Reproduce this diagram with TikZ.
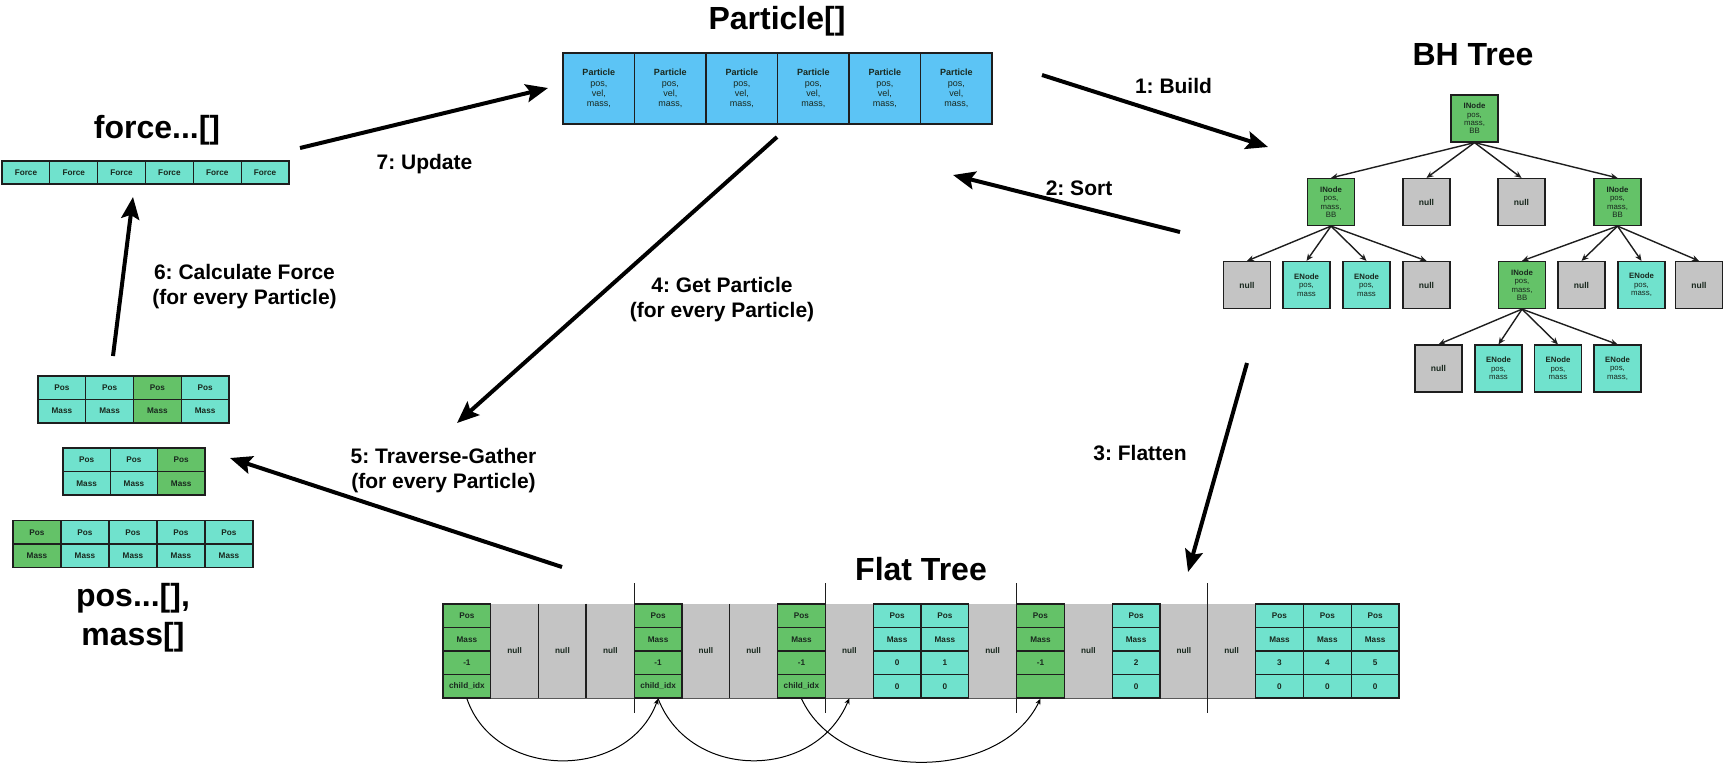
\documentclass[tikz,border=0pt]{standalone}
\usepackage{fontspec}
\setmainfont{Liberation Sans}
\usetikzlibrary{arrows.meta,calc}
\definecolor{pblue}{RGB}{92,196,245}
\definecolor{fillg}{RGB}{100,194,104}
\definecolor{fillc}{RGB}{112,226,205}
\definecolor{filln}{RGB}{196,196,196}
\definecolor{txt}{RGB}{25,40,30}
\definecolor{edge}{RGB}{30,30,30}
\begin{document}
\frenchspacing
\begin{tikzpicture}[x=1pt,y=-1pt,
  pcell/.style={draw=edge, line width=1.8pt, fill=pblue, minimum width=71.5pt, minimum height=71pt, inner sep=0pt, align=center, text=txt, font=\fontsize{9}{10.3}\selectfont},
  cell/.style={draw=edge, line width=1.3pt, minimum width=47.8pt, minimum height=23.5pt, inner sep=0pt, text=txt, font=\fontsize{8.2}{9}\selectfont\bfseries},
  nullcol/.style={fill=filln, minimum width=47.8pt, minimum height=94pt, inner sep=0pt, text=txt, font=\fontsize{8.2}{9}\selectfont\bfseries},
  tnode/.style={draw=edge, line width=1.2pt, minimum width=47pt, minimum height=47pt, inner sep=0pt, align=center, text=txt, font=\fontsize{7.8}{8.4}\selectfont},
  inode/.style={tnode, fill=fillg},
  enode/.style={tnode, fill=fillc},
  nnode/.style={tnode, fill=filln, font=\fontsize{8.5}{9}\selectfont\bfseries},
  tedge/.style={-{Stealth[length=7pt,width=6pt]}, line width=1.4pt, draw=edge},
  big/.style={-{Stealth[length=22pt,width=18pt,inset=4pt]}, line width=4pt},
  jump/.style={-{Stealth[length=6pt,width=5pt]}, line width=1pt},
  lbl/.style={font=\fontsize{21}{25}\selectfont\bfseries, align=center, inner sep=0pt},
  ttl/.style={font=\fontsize{32}{38}\selectfont\bfseries, inner sep=0pt},
]
\fill[white] (0,0) rectangle (1723,764);
\useasboundingbox (0,0) rectangle (1723,764);

% ---------- titles ----------
\node[ttl, anchor=base] (tpart) at (777,29) {Particle[]};
\node[ttl, anchor=base] (tbh) at (1473,65) {BH Tree};
\node[ttl, anchor=base] (tforce) at (157,138) {force...[]};
\node[ttl, anchor=base] (tflat) at (921,580) {Flat Tree};
\node[ttl, anchor=base] (tpos) at (133,606) {pos...[],};
\node[ttl, anchor=base] (tmass) at (133,645) {mass[]};

% ---------- Particle array ----------
\foreach \i in {1,...,6}{
  \node[pcell] (p\i) at ({563+(\i-0.5)*71.5},88.5) {\textbf{Particle}\\pos,\\vel,\\mass,};
}

% ---------- force array ----------
\foreach \i in {1,...,6}{
  \node[cell, fill=fillc, minimum width=47.83pt, minimum height=23pt, line width=1.1pt] (fo\i) at ({2+(\i-0.5)*47.83},172.5) {Force};
}

% ---------- pos / mass arrays ----------
\foreach \i/\col in {1/fillc,2/fillc,3/fillg,4/fillc}{
  \node[cell, fill=\col, minimum width=47.75pt] (ap\i) at ({38+(\i-0.5)*47.75},387.7) {Pos};
  \node[cell, fill=\col, minimum width=47.75pt] (am\i) at ({38+(\i-0.5)*47.75},411.2) {Mass};
}
\foreach \i/\col in {1/fillc,2/fillc,3/fillg}{
  \node[cell, fill=\col, minimum width=47.3pt] (bp\i) at ({63+(\i-0.5)*47.3},459.7) {Pos};
  \node[cell, fill=\col, minimum width=47.3pt] (bm\i) at ({63+(\i-0.5)*47.3},483.3) {Mass};
}
\foreach \i/\col in {1/fillg,2/fillc,3/fillc,4/fillc,5/fillc}{
  \node[cell, fill=\col, minimum width=48pt] (cp\i) at ({13+(\i-0.5)*48},532.5) {Pos};
  \node[cell, fill=\col, minimum width=48pt] (cm\i) at ({13+(\i-0.5)*48},555.7) {Mass};
}

% ---------- BH tree ----------
\node[inode] (t0) at (1474.5,118.5) {\textbf{INode}\\pos,\\mass,\\BB};
\node[inode] (t1) at (1331,202) {\textbf{INode}\\pos,\\mass,\\BB};
\node[nnode] (t2) at (1426.5,202) {null};
\node[nnode] (t3) at (1521.5,202) {null};
\node[inode] (t4) at (1617.5,202) {\textbf{INode}\\pos,\\mass,\\BB};
\node[nnode] (t5) at (1247,285) {null};
\node[enode] (t6) at (1306.5,285) {\textbf{ENode}\\pos,\\mass};
\node[enode] (t7) at (1366.5,285) {\textbf{ENode}\\pos,\\mass};
\node[nnode] (t8) at (1426.5,285) {null};
\node[inode] (t9) at (1522,285) {\textbf{INode}\\pos,\\mass,\\BB};
\node[nnode] (t10) at (1581.5,285) {null};
\node[enode] (t11) at (1641.5,285) {\textbf{ENode}\\pos,\\mass,};
\node[nnode] (t12) at (1699,285) {null};
\node[nnode] (t13) at (1438.5,368.5) {null};
\node[enode] (t14) at (1498.5,368.5) {\textbf{ENode}\\pos,\\mass};
\node[enode] (t15) at (1558,368.5) {\textbf{ENode}\\pos,\\mass};
\node[enode] (t16) at (1617.5,368.5) {\textbf{ENode}\\pos,\\mass,};
\foreach \c in {1,2,3,4}{\draw[tedge] (t0.south) -- (t\c.north);}
\foreach \c in {5,6,7,8}{\draw[tedge] (t1.south) -- (t\c.north);}
\foreach \c in {9,10,11,12}{\draw[tedge] (t4.south) -- (t\c.north);}
\foreach \c in {13,14,15,16}{\draw[tedge] (t9.south) -- (t\c.north);}

% ---------- Flat tree ----------
\draw[gray!70!black, line width=0.6pt] (443,604) rectangle (1399,698);
\foreach \i in {2,3,4,6,7,9,12,14,16,17}{
  \node[nullcol] (f\i) at ({443+(\i-0.5)*47.8},651) {null};
  \draw[edge, line width=1.5pt] (f\i.north west) -- (f\i.south west);
  \draw[edge, line width=1.5pt] (f\i.north east) -- (f\i.south east);
}
\foreach \i/\col/\r/\s in {1/fillg/-1/child\_idx, 5/fillg/-1/child\_idx, 8/fillg/-1/child\_idx, 10/fillc/0/0, 11/fillc/1/0, 13/fillg/-1/{}, 15/fillc/2/0, 18/fillc/3/0, 19/fillc/4/0, 20/fillc/5/0}{
  \node[cell, fill=\col] (f\i-1) at ({443+(\i-0.5)*47.8},615.75) {Pos};
  \node[cell, fill=\col] (f\i-2) at ({443+(\i-0.5)*47.8},639.25) {Mass};
  \node[cell, fill=\col] (f\i-3) at ({443+(\i-0.5)*47.8},662.75) {\r};
  \node[cell, fill=\col] (f\i-4) at ({443+(\i-0.5)*47.8},686.25) {\s};
}
\foreach \x in {634.2,825.4,1016.6,1207.8}{
  \draw[edge, line width=1pt] (\x,583) -- (\x,713);
}
\draw[jump] (f1-4.south) .. controls (495,781) and (628,781) .. (f5-4.south);
\draw[jump] (f5-4.south) .. controls (690,781) and (815,781) .. (f9.south);
\draw[jump] (f8-4.south) .. controls (840,783) and (1000,783) .. (f13-4.south);

% ---------- big arrows ----------
\coordinate (b1s) at (1042,75);   \coordinate (b1e) at (1268,147);
\coordinate (b2s) at (1180,232);  \coordinate (b2e) at (953,175);
\coordinate (b3s) at (1247,363);  \coordinate (b3e) at (1188,572);
\coordinate (b4s) at (777,137);   \coordinate (b4e) at (457,423);
\coordinate (b5s) at (562,567);   \coordinate (b5e) at (230,458);
\coordinate (b6s) at (113,356);   \coordinate (b6e) at (133,197);
\coordinate (b7s) at (300,148);   \coordinate (b7e) at (548,88);
\draw[big] (b1s) -- (b1e);
\draw[big] (b2s) -- (b2e);
\draw[big] (b3s) -- (b3e);
\draw[big] (b4s) -- (b4e);
\draw[big] (b5s) -- (b5e);
\draw[big] (b6s) -- (b6e);
\draw[big] (b7s) -- (b7e);

% ---------- labels ----------
\node[lbl, anchor=base] (l1) at (1173.5,93) {1: Build};
\node[lbl, anchor=base] (l2) at (1079,195) {2: Sort};
\node[lbl, anchor=base] (l3) at (1140,460) {3: Flatten};
\node[lbl] (l4) at (722,300) {4: Get Particle\\(for every Particle)};
\node[lbl] (l5) at (443.5,471) {5: Traverse-Gather\\(for every Particle)};
\node[lbl] (l6) at (244.5,287) {6: Calculate Force\\(for every Particle)};
\node[lbl, anchor=base] (l7) at (424.5,169) {7: Update};
\end{tikzpicture}
\end{document}
